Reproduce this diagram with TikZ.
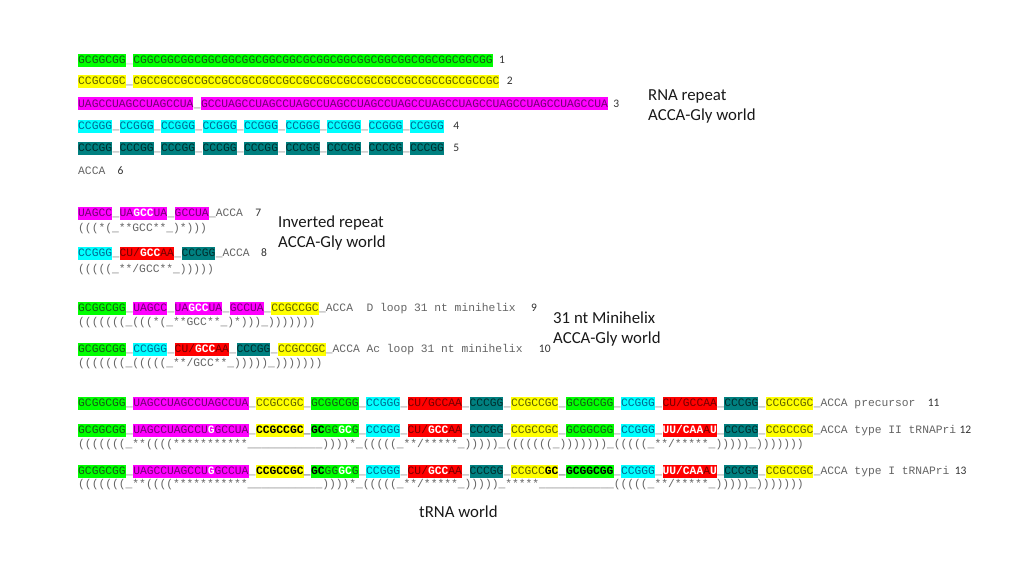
\documentclass[tikz,border=0pt]{standalone}
\usepackage{fontspec}
\newfontfamily\monof{Liberation Mono}
\newfontfamily\labf{Carlito}
\newcommand\mono{\monof\fontsize{11.3}{13}\selectfont}
\definecolor{hlG}{RGB}{0,255,0}\definecolor{txG}{RGB}{20,90,20}
\definecolor{hlY}{RGB}{255,255,0}\definecolor{txY}{RGB}{95,95,0}
\definecolor{hlM}{RGB}{255,0,255}\definecolor{txM}{RGB}{115,0,115}
\definecolor{hlC}{RGB}{0,255,255}\definecolor{txC}{RGB}{0,105,145}
\definecolor{hlT}{RGB}{0,128,128}\definecolor{txT}{RGB}{0,45,45}
\definecolor{hlR}{RGB}{255,0,0}\definecolor{txR}{RGB}{115,0,0}
\definecolor{txP}{RGB}{100,100,100}
\definecolor{txL}{RGB}{175,175,175}
\definecolor{numc}{RGB}{50,50,50}
\definecolor{labc}{RGB}{25,25,25}
\newcommand\wt[1]{\textcolor{white}{\bfseries #1}}
\newcommand\bk[1]{\textcolor{black}{\bfseries #1}}
\newcommand\nx[4]{\node[#1] (#2) at (#3.base east) {#4};}
\tikzset{
  seqbox/.style={font=\mono, inner sep=0pt, text height=9.7pt, text depth=3.3pt, anchor=base west},
  G/.style={seqbox, fill=hlG, text=txG},
  Y/.style={seqbox, fill=hlY, text=txY},
  M/.style={seqbox, fill=hlM, text=txM},
  C/.style={seqbox, fill=hlC, text=txC},
  T/.style={seqbox, fill=hlT, text=txT},
  R/.style={seqbox, fill=hlR, text=txR},
  P/.style={seqbox, text=txP},
  PL/.style={seqbox, text=txL},
  num/.style={font=\labf\fontsize{11.5}{13}\selectfont, text=numc, inner sep=0pt, anchor=base west},
  lab/.style={font=\labf\fontsize{16.8}{19}\selectfont, text=labc, inner sep=0pt, anchor=base west},
}
\begin{document}
\begin{tikzpicture}[x=1pt,y=-1pt]
\useasboundingbox[fill=white] (0,0) rectangle (1024,578);
% row 1
\node[G] (a1) at (78,63.9) {GCGGCGG};
\nx{PL}{a2}{a1}{\_}
\nx{G}{a3}{a2}{CGGCGGCGGCGGCGGCGGCGGCGGCGCGGCGGCGGCGGCGGCGGCGGCGGCGG}
\node[num] (n1) at ([xshift=6pt]a3.base east) {1};
% row 2
\node[Y] (b1) at (78,84.9) {CCGCCGC};
\nx{P}{b2}{b1}{\_}
\nx{Y}{b3}{b2}{CGCCGCCGCCGCCGCCGCCGCCGCCGCCGCCGCCGCCGCCGCCGCCGCCGCCGC}
\node[num] (n2) at ([xshift=7pt]b3.base east) {2};
% row 3
\node[M] (c1) at (78,107) {UAGCCUAGCCUAGCCUA};
\nx{P}{c2}{c1}{\_}
\nx{M}{c3}{c2}{GCCUAGCCUAGCCUAGCCUAGCCUAGCCUAGCCUAGCCUAGCCUAGCCUAGCCUAGCCUA}
\node[num] (n3) at ([xshift=5pt]c3.base east) {3};
% row 4
\node[C] (d1) at (78,129.2) {CCGGG};
\nx{P}{d2}{d1}{\_}\nx{C}{d3}{d2}{CCGGG}
\nx{P}{d4}{d3}{\_}\nx{C}{d5}{d4}{CCGGG}
\nx{P}{d6}{d5}{\_}\nx{C}{d7}{d6}{CCGGG}
\nx{P}{d8}{d7}{\_}\nx{C}{d9}{d8}{CCGGG}
\nx{P}{d10}{d9}{\_}\nx{C}{d11}{d10}{CCGGG}
\nx{P}{d12}{d11}{\_}\nx{C}{d13}{d12}{CCGGG}
\nx{P}{d14}{d13}{\_}\nx{C}{d15}{d14}{CCGGG}
\nx{P}{d16}{d15}{\_}\nx{C}{d17}{d16}{CCGGG}
\node[num] (n4) at ([xshift=9pt]d17.base east) {4};
% row 5
\node[T] (e1) at (78,151.2) {CCCGG};
\nx{P}{e2}{e1}{\_}\nx{T}{e3}{e2}{CCCGG}
\nx{P}{e4}{e3}{\_}\nx{T}{e5}{e4}{CCCGG}
\nx{P}{e6}{e5}{\_}\nx{T}{e7}{e6}{CCCGG}
\nx{P}{e8}{e7}{\_}\nx{T}{e9}{e8}{CCCGG}
\nx{P}{e10}{e9}{\_}\nx{T}{e11}{e10}{CCCGG}
\nx{P}{e12}{e11}{\_}\nx{T}{e13}{e12}{CCCGG}
\nx{P}{e14}{e13}{\_}\nx{T}{e15}{e14}{CCCGG}
\nx{P}{e16}{e15}{\_}\nx{T}{e17}{e16}{CCCGG}
\node[num] (n5) at ([xshift=9pt]e17.base east) {5};
% row 6
\node[P] (f1) at (78,174.9) {ACCA};
\node[num] (n6) at ([xshift=12pt]f1.base east) {6};
% labels
\node[lab] (L1a) at (648,100.5) {RNA repeat};
\node[lab] (L1b) at (648,120.5) {ACCA-Gly world};
% row 7
\node[M] (g1) at (78,216.9) {UAGCC};
\nx{P}{g2}{g1}{\_}\nx{M}{g3}{g2}{UA\wt{GCC}UA}
\nx{P}{g4}{g3}{\_}\nx{M}{g5}{g4}{GCCUA}
\nx{P}{g6}{g5}{\_ACCA}
\node[num] (n7) at ([xshift=12pt]g6.base east) {7};
\node[P] (s7) at (78,231) {(((*(\_**GCC**\_)*)))};
% row 8
\node[C] (h1) at (78,256.5) {CCGGG};
\nx{P}{h2}{h1}{\_}\nx{R}{h3}{h2}{CU/\wt{GCC}AA}
\nx{P}{h4}{h3}{\_}\nx{T}{h5}{h4}{CCCGG}
\nx{P}{h6}{h5}{\_ACCA}
\node[num] (n8) at ([xshift=11pt]h6.base east) {8};
\node[P] (s8) at (78,272.8) {(((((\_**/GCC**\_)))))};
\node[lab] (L2a) at (278,227) {Inverted repeat};
\node[lab] (L2b) at (278,247) {ACCA-Gly world};
% row 9
\node[G] (i1) at (78,311.5) {GCGGCGG};
\nx{P}{i2}{i1}{\_}\nx{M}{i3}{i2}{UAGCC}
\nx{P}{i4}{i3}{\_}\nx{M}{i5}{i4}{UA\wt{GCC}UA}
\nx{P}{i6}{i5}{\_}\nx{M}{i7}{i6}{GCCUA}
\nx{P}{i8}{i7}{\_}\nx{Y}{i9}{i8}{CCGCCGC}
\nx{P}{i10}{i9}{\_ACCA\ \ D loop 31 nt minihelix}
\node[num] (n9) at ([xshift=15pt]i10.base east) {9};
\node[P] (s9) at (78,325) {(((((((\_(((*(\_**GCC**\_)*)))\_)))))))};
% row 10
\node[G] (j1) at (78,352.2) {GCGGCGG};
\nx{P}{j2}{j1}{\_}\nx{C}{j3}{j2}{CCGGG}
\nx{P}{j4}{j3}{\_}\nx{R}{j5}{j4}{CU/\wt{GCC}AA}
\nx{P}{j6}{j5}{\_}\nx{T}{j7}{j6}{CCCGG}
\nx{P}{j8}{j7}{\_}\nx{Y}{j9}{j8}{CCGCCGC}
\nx{P}{j10}{j9}{\_ACCA Ac loop 31 nt minihelix}
\node[num] (n10) at ([xshift=16pt]j10.base east) {10};
\node[P] (s10) at (78,366) {(((((((\_(((((\_**/GCC**\_)))))\_)))))))};
\node[lab] (L3a) at (553,323.5) {31 nt Minihelix};
\node[lab] (L3b) at (553,343.5) {ACCA-Gly world};
% row 11
\node[G] (k1) at (78,406.2) {GCGGCGG};
\nx{P}{k2}{k1}{\_}\nx{M}{k3}{k2}{UAGCCUAGCCUAGCCUA}
\nx{P}{k4}{k3}{\_}\nx{Y}{k5}{k4}{CCGCCGC}
\nx{P}{k6}{k5}{\_}\nx{G}{k7}{k6}{GCGGCGG}
\nx{P}{k8}{k7}{\_}\nx{C}{k9}{k8}{CCGGG}
\nx{P}{k10}{k9}{\_}\nx{R}{k11}{k10}{CU/GCCAA}
\nx{P}{k12}{k11}{\_}\nx{T}{k13}{k12}{CCCGG}
\nx{P}{k14}{k13}{\_}\nx{Y}{k15}{k14}{CCGCCGC}
\nx{P}{k16}{k15}{\_}\nx{G}{k17}{k16}{GCGGCGG}
\nx{P}{k18}{k17}{\_}\nx{C}{k19}{k18}{CCGGG}
\nx{P}{k20}{k19}{\_}\nx{R}{k21}{k20}{CU/GCCAA}
\nx{P}{k22}{k21}{\_}\nx{T}{k23}{k22}{CCCGG}
\nx{P}{k24}{k23}{\_}\nx{Y}{k25}{k24}{CCGCCGC}
\nx{P}{k26}{k25}{\_ACCA precursor}
\node[num] (n11) at ([xshift=12pt]k26.base east) {11};
% row 12
\node[G] (l1) at (78,433.2) {GCGGCGG};
\nx{P}{l2}{l1}{\_}\nx{M}{l3}{l2}{UAGCCUAGCCU\wt{G}GCCUA}
\nx{P}{l4}{l3}{\_}\nx{Y}{l5}{l4}{\bk{CCGCCGC}}
\nx{P}{l6}{l5}{\bk{\_}}\nx{G}{l7}{l6}{\bk{GC}GG\wt{GC}G}
\nx{P}{l8}{l7}{\_}\nx{C}{l9}{l8}{CCGGG}
\nx{P}{l10}{l9}{\_}\nx{R}{l11}{l10}{CU/\wt{GCC}AA}
\nx{P}{l12}{l11}{\_}\nx{T}{l13}{l12}{CCCGG}
\nx{P}{l14}{l13}{\_}\nx{Y}{l15}{l14}{CCGCCGC}
\nx{P}{l16}{l15}{\_}\nx{G}{l17}{l16}{GCGGCGG}
\nx{P}{l18}{l17}{\_}\nx{C}{l19}{l18}{CCGGG}
\nx{P}{l20}{l19}{\_}\nx{R}{l21}{l20}{\wt{U}\wt{U/CAA}A\wt{U}}
\nx{P}{l22}{l21}{\_}\nx{T}{l23}{l22}{CCCGG}
\nx{P}{l24}{l23}{\_}\nx{Y}{l25}{l24}{CCGCCGC}
\nx{P}{l26}{l25}{\_ACCA type II tRNAPri}
\node[num] (n12) at ([xshift=3pt]l26.base east) {12};
\node[P] (s12) at (78,447.3) {(((((((\_**((((***********\_\_\_\_\_\_\_\_\_\_\_))))*\_(((((\_**/*****\_)))))\_(((((((\_)))))))\_(((((\_**/*****\_)))))\_)))))))};
% row 13
\node[G] (m1) at (78,474.5) {GCGGCGG};
\nx{P}{m2}{m1}{\_}\nx{M}{m3}{m2}{UAGCCUAGCCU\wt{G}GCCUA}
\nx{P}{m4}{m3}{\_}\nx{Y}{m5}{m4}{\bk{CCGCCGC}}
\nx{P}{m6}{m5}{\bk{\_}}\nx{G}{m7}{m6}{\bk{GC}GG\wt{GC}G}
\nx{P}{m8}{m7}{\_}\nx{C}{m9}{m8}{CCGGG}
\nx{P}{m10}{m9}{\_}\nx{R}{m11}{m10}{CU/\wt{GCC}AA}
\nx{P}{m12}{m11}{\_}\nx{T}{m13}{m12}{CCCGG}
\nx{P}{m14}{m13}{\_}\nx{Y}{m15}{m14}{CCGCC\bk{GC}}
\nx{P}{m16}{m15}{\bk{\_}}\nx{G}{m17}{m16}{\bk{GCGGCGG}}
\nx{P}{m18}{m17}{\_}\nx{C}{m19}{m18}{CCGGG}
\nx{P}{m20}{m19}{\_}\nx{R}{m21}{m20}{\wt{U}\wt{U/CAA}A\wt{U}}
\nx{P}{m22}{m21}{\_}\nx{T}{m23}{m22}{CCCGG}
\nx{P}{m24}{m23}{\_}\nx{Y}{m25}{m24}{CCGCCGC}
\nx{P}{m26}{m25}{\_ACCA type I tRNAPri}
\node[num] (n13) at ([xshift=5pt]m26.base east) {13};
\node[P] (s13) at (78,487.8) {(((((((\_**((((***********\_\_\_\_\_\_\_\_\_\_\_))))*\_(((((\_**/*****\_)))))\_*****\_\_\_\_\_\_\_\_\_\_\_(((((\_**/*****\_)))))\_)))))))};
\node[lab] (L4) at (419,517) {tRNA world};
\end{tikzpicture}
\end{document}
